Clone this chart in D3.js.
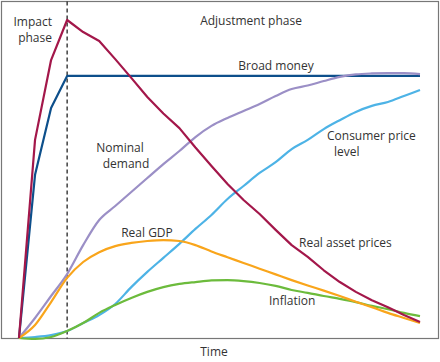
<!DOCTYPE html>
<html>
<head>
<meta charset="utf-8">
<script src="https://cdn.jsdelivr.net/npm/d3@7/dist/d3.min.js"></script>
<style>
  html, body { margin: 0; padding: 0; background: #fff; }
  svg text { font-family: "Open Sans", "Noto Sans", sans-serif; font-size: 12px; fill: #333; }
</style>
</head>
<body>
<svg id="chart" width="440" height="362"></svg>
<script>
// time steps (arbitrary units), impact phase ends at 12
var time = [0, 4, 8, 12, 16, 20, 24, 28, 32, 36, 40, 44, 48, 52, 56, 60, 64, 68, 72, 76, 80, 84, 88, 92, 96, 100];
var impactEnd = 12;

var realAssetPrices = [0, 62.3, 87.4, 100, 96.2, 93.4, 87.7, 81.8, 75.8, 70.6, 66.0, 59.9, 54.1, 48.4, 43.4, 39.0, 34.0, 29.2, 25.5, 21.3, 17.6, 14.5, 11.9, 9.7, 7.2, 5.0];
var broadMoney = [0, 51.3, 72.3, 82.4, 82.4, 82.4, 82.4, 82.4, 82.4, 82.4, 82.4, 82.4, 82.4, 82.4, 82.4, 82.4, 82.4, 82.4, 82.4, 82.4, 82.4, 82.4, 82.4, 82.4, 82.4, 82.4];
var nominalDemand = [0, 6.3, 13.2, 20.1, 29.2, 37.1, 41.5, 45.9, 50.3, 54.7, 58.8, 63.2, 66.7, 69.2, 71.4, 73.6, 76.1, 78.3, 79.4, 80.8, 82.1, 82.9, 83.2, 83.3, 83.3, 83.0];
var consumerPrices = [0, 0.3, 0.9, 2.2, 4.7, 7.2, 10.7, 16.0, 20.8, 25.2, 29.6, 34.3, 38.7, 43.7, 47.8, 51.9, 55.3, 59.4, 62.3, 65.7, 68.5, 71.1, 73.0, 74.2, 76.1, 78.0];
var realGDP = [0, 4.1, 11.3, 18.9, 23.9, 27.0, 28.9, 29.9, 30.5, 30.8, 30.5, 29.2, 27.2, 25.4, 23.6, 21.8, 20.0, 18.2, 16.5, 14.9, 13.2, 11.4, 9.7, 7.9, 6.3, 4.7];
var inflation = [0, -0.3, 0.3, 2.2, 4.7, 7.9, 10.4, 12.6, 14.5, 16.0, 17.0, 17.6, 18.1, 18.2, 17.9, 17.3, 16.4, 15.1, 14.2, 13.2, 12.3, 11.3, 10.1, 9.1, 7.9, 6.9];

var series = [
  { name: 'Broad money', values: broadMoney, color: '#0d4f8b', smooth: false },
  { name: 'Nominal demand', values: nominalDemand, color: '#9b8fc6', smooth: true },
  { name: 'Consumer price level', values: consumerPrices, color: '#4db3e6', smooth: true },
  { name: 'Inflation', values: inflation, color: '#6cbb3c', smooth: true },
  { name: 'Real GDP', values: realGDP, color: '#f9a51b', smooth: true },
  { name: 'Real asset prices', values: realAssetPrices, color: '#a3174a', smooth: false }
];

var labels = [
  { lines: ['Impact', 'phase'], x: 52, y: 26, anchor: 'end' },
  { lines: ['Adjustment phase'], x: 251, y: 25, anchor: 'middle' },
  { lines: ['Broad money'], x: 276, y: 70, anchor: 'middle' },
  { lines: ['Nominal', 'demand'], x: 120, y: 152, anchor: 'middle', dx: [0, 6] },
  { lines: ['Consumer price', 'level'], x: 327, y: 140, anchor: 'start', dx: [0, 7] },
  { lines: ['Real GDP'], x: 147, y: 237, anchor: 'middle' },
  { lines: ['Real asset prices'], x: 299, y: 247, anchor: 'start' },
  { lines: ['Inflation'], x: 269, y: 305, anchor: 'start' }
];

var svg = d3.select('#chart'),
    frame = { left: 1.5, top: 1.5, right: 438.5, bottom: 338.5 };

var x = d3.scaleLinear().domain([0, 100]).range([19, 420]),
    y = d3.scaleLinear().domain([0, 100]).range([338, 20]);

svg.append('rect')
  .attr('x', frame.left)
  .attr('y', frame.top)
  .attr('width', frame.right - frame.left)
  .attr('height', frame.bottom - frame.top)
  .attr('fill', 'none')
  .attr('stroke', '#777')
  .attr('stroke-width', 1.2);

svg.append('line')
  .attr('x1', x(impactEnd))
  .attr('x2', x(impactEnd))
  .attr('y1', frame.top)
  .attr('y2', frame.bottom)
  .attr('stroke', '#111')
  .attr('stroke-width', 1.2)
  .attr('stroke-dasharray', '4,3');

series.forEach(function(s) {
  var line = d3.line()
    .x(function(d, i) { return x(time[i]); })
    .y(function(d) { return y(d); })
    .curve(s.smooth ? d3.curveMonotoneX : d3.curveLinear);
  svg.append('path')
    .datum(s.values)
    .attr('d', line)
    .attr('fill', 'none')
    .attr('stroke', s.color)
    .attr('stroke-width', 2.2)
    .attr('stroke-linejoin', 'round');
});

labels.forEach(function(l) {
  var t = svg.append('text')
    .attr('text-anchor', l.anchor);
  l.lines.forEach(function(line, i) {
    t.append('tspan')
      .attr('x', l.x + (l.dx ? l.dx[i] : 0))
      .attr('y', l.y + i * 16)
      .text(line);
  });
});

svg.append('text')
  .attr('x', 214)
  .attr('y', 356)
  .attr('text-anchor', 'middle')
  .text('Time');
</script>
</body>
</html>
